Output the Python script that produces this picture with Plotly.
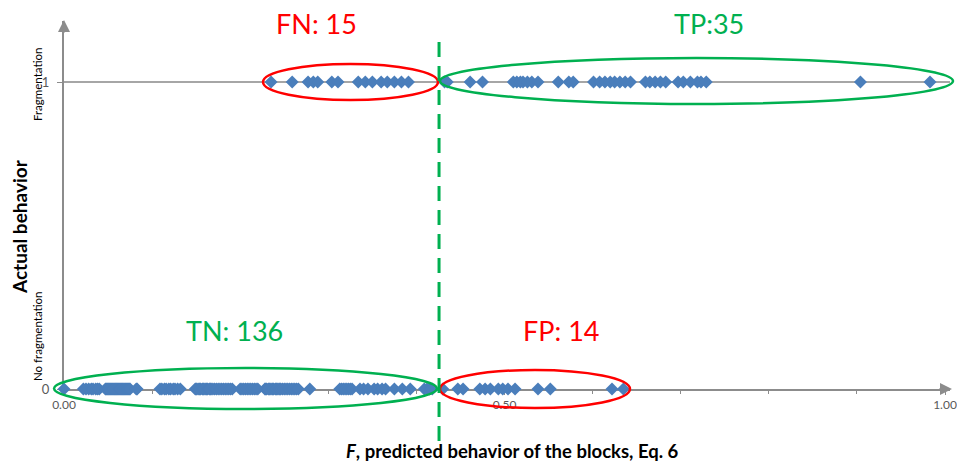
import plotly.graph_objects as go

# ---- data ----
tn_f = [0.000,
        0.022, 0.025, 0.028, 0.031, 0.033, 0.036, 0.038, 0.040,
        0.047, 0.048, 0.049, 0.050, 0.051, 0.052, 0.053, 0.054, 0.055, 0.056,
        0.057, 0.058, 0.059, 0.060, 0.061, 0.062, 0.063, 0.064, 0.065, 0.066,
        0.067, 0.068, 0.069, 0.070, 0.071, 0.072, 0.073, 0.074, 0.075,
        0.082, 0.083,
        0.109, 0.111, 0.114, 0.116, 0.119, 0.121, 0.124, 0.126, 0.129, 0.132,
        0.149, 0.150, 0.151, 0.153, 0.154, 0.155, 0.157, 0.158, 0.159, 0.161,
        0.162, 0.163, 0.165, 0.166, 0.167, 0.169, 0.171, 0.173, 0.175, 0.177,
        0.179, 0.181, 0.183, 0.185, 0.187, 0.189, 0.191,
        0.200, 0.202, 0.204, 0.206, 0.208, 0.210, 0.212, 0.214, 0.216, 0.218, 0.220,
        0.228, 0.229, 0.230, 0.232, 0.233, 0.234, 0.236, 0.237, 0.238, 0.240,
        0.241, 0.242, 0.244, 0.245, 0.246, 0.248, 0.250, 0.252, 0.254, 0.256,
        0.258, 0.260, 0.262, 0.264, 0.266,
        0.279,
        0.313, 0.315, 0.317, 0.319, 0.321, 0.323, 0.325, 0.327,
        0.336, 0.340, 0.345,
        0.352, 0.356, 0.361, 0.365,
        0.375, 0.384, 0.393,
        0.409, 0.412, 0.415, 0.418]
fn_f = [0.235, 0.259, 0.277, 0.283, 0.288, 0.304, 0.311, 0.334, 0.342, 0.350,
        0.360, 0.367, 0.375, 0.383, 0.391]
tp_f = [0.432, 0.435, 0.461, 0.475, 0.510, 0.514, 0.518, 0.521, 0.526, 0.531,
        0.538, 0.561, 0.573, 0.578, 0.601, 0.608, 0.614, 0.620, 0.625, 0.631,
        0.637, 0.643, 0.660, 0.665, 0.671, 0.677, 0.683, 0.697, 0.703, 0.711,
        0.719, 0.723, 0.729, 0.904, 0.983]
fp_f = [0.430, 0.447, 0.453, 0.472, 0.478, 0.484, 0.493, 0.498, 0.504, 0.512,
        0.538, 0.552, 0.622, 0.635]
threshold = 0.4257
x_ticks = [0.0, 0.5, 1.0]
x_tick_labels = ["0.00", "0.50", "1.00"]
y_ticks = [0, 1]
y_tick_labels = ["0", "1"]

all_x = tn_f + fp_f + fn_f + tp_f
all_y = [0] * (len(tn_f) + len(fp_f)) + [1] * (len(fn_f) + len(tp_f))

RED = "#FF0000"
GREEN = "#00B050"
AX = "#8C8C8C"

fig = go.Figure()
fig.add_trace(go.Scatter(
    x=all_x, y=all_y, mode="markers", cliponaxis=False,
    marker=dict(symbol="diamond", size=10, color="#4A7EBB", line=dict(width=0)),
    showlegend=False, hoverinfo="x+y"))

# page geometry (plot div pinned at page origin, so page px == figure px)
FW, FH = 957, 463
PL, PR, PT, PB = 64, 950, 21, 389      # plot area in page pixels
L, T, R, B = PL, PT, FW - PR, FH - PB
pw, ph = PR - PL, PB - PT
xmax = pw / 881.0
ymax = ph / 307.0

def px(xp):
    return (xp - PL) / pw

def py(yp):
    return (PB - yp) / ph

shapes = []
def ell(x0, x1, y0, y1, color):
    shapes.append(dict(type="circle", xref="paper", yref="paper",
                       x0=px(x0), x1=px(x1), y0=py(y1), y1=py(y0),
                       line=dict(color=color, width=2.5)))

ell(263, 438, 64, 100, RED)
ell(440, 953, 58, 104, GREEN)
ell(54, 437, 368, 409, GREEN)
ell(440, 630, 370, 408, RED)

thr_paper = threshold * 881.0 / pw
shapes.append(dict(type="line", xref="paper", yref="paper",
                   x0=thr_paper, x1=thr_paper, y0=py(441), y1=py(34),
                   line=dict(color=GREEN, width=3, dash="15px,9px")))

def txt(text, x, y, size, color="#000000", angle=0):
    return dict(text=text, x=px(x), y=py(y), xref="paper", yref="paper",
                xanchor="center", yanchor="middle", showarrow=False,
                textangle=angle, font=dict(family="Lato", size=size, color=color))

annotations = [
    txt("FN: 15", 316, 23, 27, RED),
    txt("TP:35", 709, 23, 27, GREEN),
    txt("TN: 136", 234, 330, 27, GREEN),
    txt("FP: 14", 561, 330, 27, RED),
    txt("Fragmentation", 37, 85, 11.5, angle=-90),
    txt("No fragmentation", 37, 336, 11.5, angle=-90),
    txt("<b>Actual behavior</b>", 20, 227, 19, angle=-90),
    txt("<b><i>F</i>, predicted behavior of the blocks, Eq. 6</b>", 512, 451, 18.5),
    # axis arrow heads
    dict(x=px(952), y=py(389), xref="paper", yref="paper", ax=-14, ay=0,
         text="", showarrow=True, arrowhead=2, arrowsize=1.2, arrowwidth=2,
         arrowcolor=AX),
    dict(x=px(64), y=py(20), xref="paper", yref="paper", ax=0, ay=14,
         text="", showarrow=True, arrowhead=2, arrowsize=1.2, arrowwidth=2,
         arrowcolor=AX),
]

fig.update_layout(
    width=FW, height=FH,
    margin=dict(l=L, r=R, t=T, b=B, pad=0, autoexpand=False),
    paper_bgcolor="white", plot_bgcolor="white",
    shapes=shapes, annotations=annotations,
    xaxis=dict(range=[0, xmax], tickvals=x_ticks, ticktext=x_tick_labels,
               automargin=False,
               showgrid=False, zeroline=False, showline=True, linecolor=AX,
               linewidth=2, ticks="outside", ticklen=4, tickcolor=AX,
               minor=dict(dtick=0.1, ticks="outside", ticklen=3, tickcolor=AX),
               tickfont=dict(family="Lato", size=12, color="#595959"),
               layer="below traces", fixedrange=True),
    yaxis=dict(range=[0, ymax], tickvals=y_ticks, ticktext=y_tick_labels,
               automargin=False,
               showgrid=True, gridcolor="#A6A6A6", gridwidth=1.5,
               zeroline=False, showline=True, linecolor=AX, linewidth=2,
               ticks="outside", ticklen=5, tickcolor=AX, ticklabelstandoff=5,
               tickfont=dict(family="Lato", size=13, color="#595959"),
               layer="below traces", fixedrange=True),
)

fig.write_html(
    "out.html",
    config={"displayModeBar": False, "staticPlot": True},
    post_script=(
        "document.documentElement.style.margin='0px';"
        "document.documentElement.style.overflow='hidden';"
        "document.body.style.margin='0px';"
        "document.body.style.overflow='hidden';"
        "var gd=document.getElementById('{plot_id}');"
        "gd.style.position='fixed';gd.style.left='0px';gd.style.top='0px';"
    ),
)
